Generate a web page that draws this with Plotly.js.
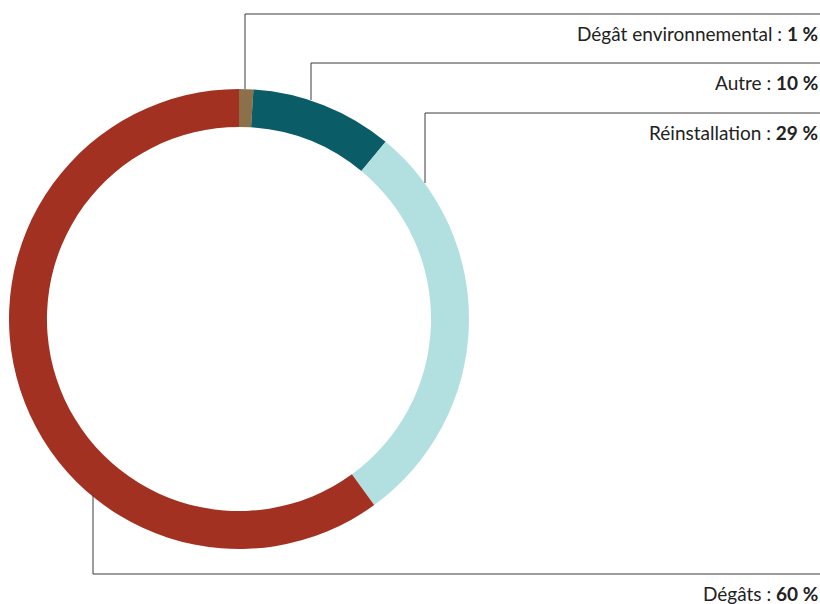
<!DOCTYPE html>
<html><head><meta charset="utf-8">
<script src="https://cdn.plot.ly/plotly-3.0.1.min.js"></script>
<style>html,body{margin:0;padding:0;background:#fff}#chart{width:820px;height:604px}</style>
</head><body><div id="chart"></div>
<script>
const categories = ["Dégât environnemental", "Autre", "Réinstallation", "Dégâts"];
const values = [1, 10, 29, 60];
const colors = ["#8B7049", "#0A5C66", "#B2DFE0", "#A33122"];

// leader line layout (pixel positions) per category
const W = 820, H = 604;
const leaders = [
  {vx: 245, y0: 89, yLine: 14, labelY: 33},
  {vx: 311, y0: 100, yLine: 63, labelY: 83},
  {vx: 425, y0: 183, yLine: 113, labelY: 132},
  {vx: 93, y0: 495, yLine: 574, labelY: 593}
];
const px = x => x / W, py = y => 1 - y / H;

const shapes = [], annotations = [];
leaders.forEach((l, i) => {
  shapes.push({type: 'line', xref: 'paper', yref: 'paper', x0: px(l.vx), x1: px(l.vx), y0: py(l.y0), y1: py(l.yLine), line: {color: '#3a3a3a', width: 1}});
  shapes.push({type: 'line', xref: 'paper', yref: 'paper', x0: px(l.vx), x1: 1, y0: py(l.yLine), y1: py(l.yLine), line: {color: '#3a3a3a', width: 1}});
  annotations.push({xref: 'paper', yref: 'paper', x: px(820), y: py(l.labelY), xanchor: 'right', yanchor: 'middle', showarrow: false,
    text: categories[i] + ' : <b>' + values[i] + ' %</b>', font: {family: 'Lato, sans-serif', size: 19, color: '#222'}});
});

const data = [{
  type: 'pie', labels: categories, values: values, hole: 0.835, sort: false, direction: 'clockwise', rotation: 0,
  marker: {colors: colors, line: {width: 0}}, textinfo: 'none', hoverinfo: 'none',
  domain: {x: [px(9), px(469)], y: [py(549), py(89)]}
}];
const layout = {width: W, height: H, margin: {l: 0, r: 0, t: 0, b: 0}, showlegend: false,
  paper_bgcolor: '#fff', shapes: shapes, annotations: annotations};
Plotly.newPlot('chart', data, layout, {displayModeBar: false, staticPlot: true});
</script></body></html>
